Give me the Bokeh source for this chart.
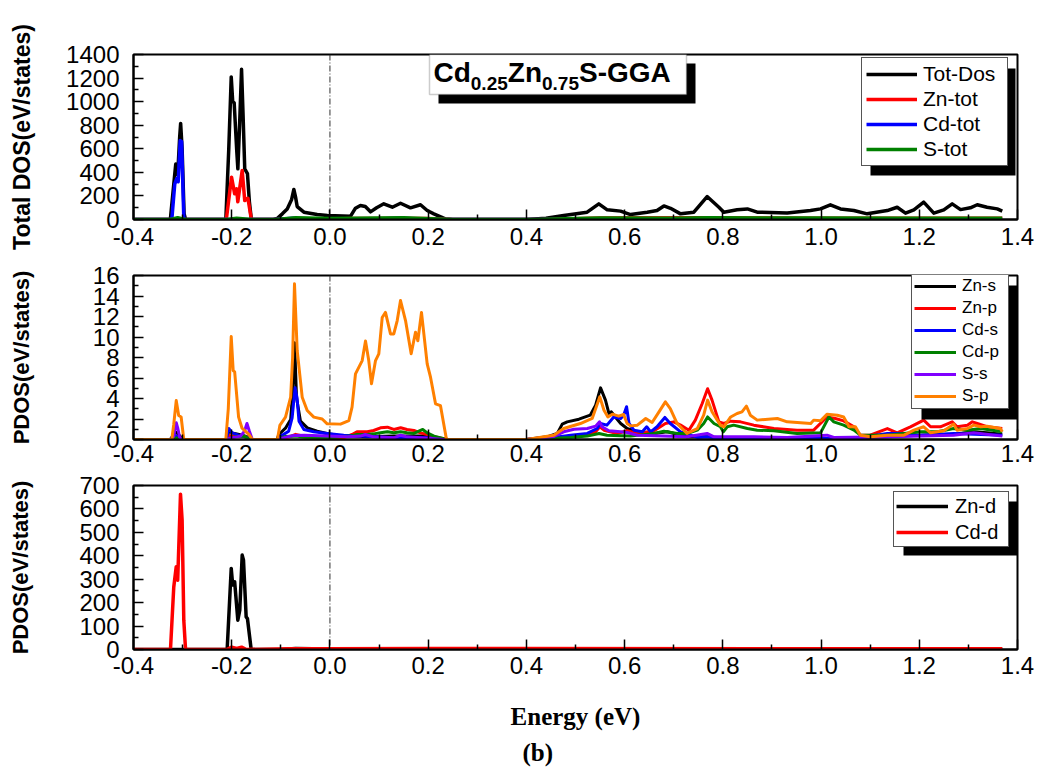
from bokeh.plotting import figure
from bokeh.layouts import column
from bokeh.models import (Range1d, FixedTicker, PrintfTickFormatter, Legend, LegendItem,
                          BoxAnnotation, Label, Span, Title)
from bokeh.embed import file_html
from bokeh.resources import INLINE

# ---------------------------------------------------------------- axes
X_MIN, X_MAX = -0.4, 1.4
X_TICKS = [-0.4, -0.2, 0.0, 0.2, 0.4, 0.6, 0.8, 1.0, 1.2, 1.4]
X_TICK_LABELS = ["-0.4", "-0.2", "0.0", "0.2", "0.4", "0.6", "0.8", "1.0", "1.2", "1.4"]
X_MINOR = [-0.3, -0.1, 0.1, 0.3, 0.5, 0.7, 0.9, 1.1, 1.3]

TOT_Y_TICKS = [0, 200, 400, 600, 800, 1000, 1200, 1400]
TOT_Y_MINOR = [100, 300, 500, 700, 900, 1100, 1300]
SP_Y_TICKS = [0, 2, 4, 6, 8, 10, 12, 14, 16]
SP_Y_MINOR = [1, 3, 5, 7, 9, 11, 13, 15]
D_Y_TICKS = [0, 100, 200, 300, 400, 500, 600, 700]
D_Y_MINOR = [50, 150, 250, 350, 450, 550, 650]

# ---------------------------------------------------------------- total DOS (eV/states)
TOT_DOS_E = [-0.400, -0.325, -0.318, -0.314, -0.310, -0.306, -0.304, -0.301, -0.297, -0.294,
             -0.212, -0.206, -0.201, -0.198, -0.195, -0.190, -0.1875, -0.184, -0.180, -0.177,
             -0.1735, -0.168, -0.164, -0.160,
             -0.115, -0.107, -0.097, -0.087, -0.078, -0.0735, -0.070, -0.0667, -0.053, -0.026,
             -0.005, 0.042, 0.052, 0.062, 0.072, 0.0826, 0.095, 0.1097, 0.127, 0.1437, 0.164,
             0.1844, 0.198, 0.2115, 0.235, 0.250,
             0.400, 0.440, 0.476, 0.5237, 0.5475, 0.5646, 0.5917, 0.612, 0.646, 0.666, 0.680,
             0.6935, 0.714, 0.741, 0.768, 0.792, 0.802, 0.829, 0.850, 0.870, 0.931, 0.9785,
             0.999, 1.019, 1.0396, 1.0667, 1.094, 1.1347, 1.155, 1.172, 1.189, 1.209, 1.2296,
             1.250, 1.267, 1.284, 1.304, 1.318, 1.338, 1.3587, 1.369]
TOT_DOS = [0, 0, 300, 470, 380, 700, 815, 600, 50, 0,
           0, 600, 1210, 1000, 990, 600, 430, 800, 1275, 900,
           430, 390, 150, 0,
           0, 10, 48, 90, 170, 255, 190, 110, 62, 42,
           34, 28, 96, 119, 110, 65, 100, 133, 104, 138, 99,
           125, 76, 48, 5, 0,
           0, 10, 34, 62, 133, 82, 71, 42, 62, 76, 115,
           95, 48, 62, 195, 104, 62, 82, 90, 62, 56, 76,
           90, 125, 90, 76, 48, 76, 104, 54, 82, 147, 54,
           82, 133, 84, 99, 125, 104, 90, 71]

ZN_TOT_E = [-0.400, -0.211, -0.2004, -0.194, -0.190, -0.1876, -0.1787, -0.1735, -0.167, -0.160,
            -0.110, -0.070, 0.000, 0.050, 0.200, 0.250, 0.450, 0.550, 0.770, 1.000, 1.369]
ZN_TOT = [0, 0, 359, 218, 260, 150, 416, 161, 180, 0,
          0, 8, 5, 8, 8, 0, 0, 12, 15, 10, 10]

CD_TOT_E = [-0.400, -0.322, -0.316, -0.312, -0.309, -0.305, -0.302, -0.2975,
            -0.110, -0.075, -0.060, 0.100, 0.140, 0.180, 0.220, 1.369]
CD_TOT = [0, 0, 300, 348, 320, 670, 660, 0,
          0, 10, 3, 5, 10, 5, 0, 0]

S_TOT_E = [-0.400, -0.325, -0.310, -0.295, -0.210, -0.190, -0.160, -0.110, -0.070, 0.000,
           0.050, 0.150, 0.220, 0.250, 0.420, 0.500, 0.550, 0.700, 0.770, 1.000, 1.200, 1.369]
S_TOT = [0, 0, 15, 0, 0, 10, 0, 0, 15, 8,
         10, 15, 5, 0, 0, 8, 12, 10, 15, 12, 10, 10]

# ---------------------------------------------------------------- s / p partial DOS
ZN_S_E = [-0.400, -0.325, -0.317, -0.312, -0.305, -0.298, -0.211, -0.206, -0.199, -0.185,
          -0.170, -0.162, -0.108, -0.104, -0.090, -0.080, -0.076, -0.072, -0.068, -0.060,
          -0.046, -0.026, -0.006, 0.015, 0.042, 0.076, 0.130, 0.198, 0.218, 0.240,
          0.400, 0.442, 0.463, 0.473, 0.483, 0.507, 0.530, 0.541, 0.551, 0.561,
          0.568, 0.573, 0.581, 0.592, 0.605, 0.626, 0.660, 0.687, 0.707, 0.727,
          0.768, 0.795, 0.863, 1.000, 1.135, 1.200, 1.270, 1.311, 1.338, 1.369]
ZN_S = [0, 0, 0.5, 0.7, 0.3, 0, 0, 0.81, 0.65, 0.49,
        0.3, 0, 0, 0.49, 1.14, 1.95, 4.5, 9.43, 4.07, 1.79,
        1.14, 0.81, 0.59, 0.42, 0.33, 0.26, 0.33, 0.33, 0.16, 0,
        0, 0.26, 0.59, 1.5, 1.72, 1.98, 2.37, 3.35, 5.04, 3.84,
        2.54, 2.7, 2.2, 1.56, 1.07, 0.75, 0.59, 0.75, 0.52, 0.26,
        0.26, 0.16, 0.1, 0.1, 0.26, 0.42, 0.52, 0.75, 0.65, 0.52]

ZN_P_E = [-0.400, -0.325, -0.315, -0.305, -0.298, -0.211, -0.205, -0.195, -0.180, -0.165,
          -0.160, -0.108, -0.080, -0.070, -0.050, 0.000, 0.030, 0.045, 0.055, 0.076,
          0.089, 0.103, 0.117, 0.130, 0.144, 0.157, 0.171, 0.184, 0.198, 0.212,
          0.232, 0.240, 0.400, 0.476, 0.524, 0.541, 0.5495, 0.558, 0.585, 0.605,
          0.626, 0.660, 0.683, 0.700, 0.714, 0.731, 0.744, 0.758, 0.769, 0.778,
          0.792, 0.802, 0.816, 0.836, 0.863, 0.904, 0.951, 0.985, 1.012, 1.029,
          1.046, 1.067, 1.080, 1.100, 1.135, 1.155, 1.182, 1.209, 1.223, 1.243,
          1.267, 1.277, 1.298, 1.308, 1.318, 1.338, 1.369]
ZN_P = [0, 0, 0.3, 0.2, 0, 0, 0.4, 0.3, 0.35, 0.2,
        0, 0, 0.3, 0.5, 0.3, 0.2, 0.2, 0.49, 0.75, 0.75,
        0.88, 1.14, 1.2, 0.98, 1.14, 0.98, 0.88, 0.65, 0.49, 0.26,
        0.07, 0, 0, 0.26, 0.42, 0.75, 1.24, 0.91, 0.59, 0.85,
        0.59, 0.85, 1.56, 1.72, 1.4, 0.91, 1.89, 3.51, 4.95, 3.84,
        1.72, 1.56, 1.79, 1.72, 1.4, 1.07, 0.91, 0.91, 2.2, 2.05,
        1.82, 1.24, 0.42, 0.42, 1.07, 0.65, 1.24, 1.89, 1.24, 1.24,
        1.72, 1.24, 1.4, 1.72, 1.56, 1.24, 1.07]

CD_S_E = [-0.400, -0.325, -0.318, -0.312, -0.298, -0.211, -0.206, -0.199, -0.185, -0.168,
          -0.162, -0.105, -0.100, -0.084, -0.077, -0.071, -0.067, -0.063, -0.053, -0.033,
          -0.006, 0.028, 0.062, 0.130, 0.200, 0.232, 0.400, 0.456, 0.490, 0.524,
          0.544, 0.551, 0.564, 0.578, 0.592, 0.598, 0.604, 0.609, 0.619, 0.636,
          0.645, 0.653, 0.666, 0.682, 0.693, 0.714, 0.748, 0.768, 0.800, 0.950,
          1.070, 1.135, 1.169, 1.200, 1.270, 1.369]
CD_S = [0, 0, 0.49, 0.3, 0, 0, 1.07, 0.65, 0.4, 0.2,
        0, 0, 0.33, 0.81, 2.11, 5.04, 4.07, 1.79, 0.98, 0.75,
        0.59, 0.42, 0.33, 0.16, 0.16, 0, 0, 0.2, 0.42, 0.59,
        1.07, 1.56, 1.4, 2.2, 2.05, 2.37, 3.2, 1.56, 0.91, 0.75,
        1.24, 0.75, 1.24, 2.15, 1.56, 0.75, 0.2, 0.26, 0.1, 0.1,
        0.1, 0.59, 0.59, 0.42, 0.59, 0.42]

CD_P_E = [-0.400, -0.325, -0.313, -0.298, -0.211, -0.190, -0.175, -0.162, -0.108, -0.090,
          -0.070, -0.050, 0.000, 0.042, 0.055, 0.076, 0.089, 0.103, 0.117, 0.130,
          0.144, 0.157, 0.171, 0.189, 0.198, 0.212, 0.232, 0.240, 0.400, 0.490,
          0.524, 0.548, 0.564, 0.592, 0.612, 0.660, 0.680, 0.707, 0.727, 0.748,
          0.761, 0.769, 0.782, 0.795, 0.801, 0.809, 0.822, 0.850, 0.870, 0.904,
          0.951, 0.999, 1.016, 1.026, 1.046, 1.067, 1.080, 1.135, 1.203, 1.237,
          1.270, 1.298, 1.325, 1.369]
CD_P = [0, 0, 0.16, 0, 0, 0.3, 0.33, 0, 0, 0.3,
        0.33, 0.23, 0.16, 0.33, 0.49, 0.49, 0.55, 0.65, 0.75, 0.65,
        0.75, 0.65, 0.59, 0.98, 0.65, 0.33, 0.07, 0, 0, 0.2,
        0.33, 0.59, 0.42, 0.36, 0.33, 0.59, 0.81, 0.59, 0.59, 0.91,
        1.56, 2.2, 1.56, 1.24, 0.75, 1.24, 1.4, 1.07, 0.91, 0.85,
        0.59, 0.65, 2.2, 1.72, 1.4, 0.91, 0.42, 0.42, 0.75, 0.75,
        1.07, 0.91, 1.07, 0.75]

S_S_E = [-0.400, -0.322, -0.318, -0.313, -0.310, -0.306, -0.301, -0.211, -0.202, -0.182,
         -0.174, -0.169, -0.164, -0.158, -0.108, -0.087, -0.073, -0.052, -0.006, 0.035,
         0.062, 0.072, 0.089, 0.130, 0.144, 0.157, 0.184, 0.232, 0.400, 0.456,
         0.476, 0.497, 0.524, 0.541, 0.549, 0.554, 0.568, 0.592, 0.605, 0.626,
         0.660, 0.727, 0.768, 0.782, 0.863, 0.931, 1.012, 1.026, 1.135, 1.203,
         1.270, 1.311, 1.369]
S_S = [0, 0, 0.33, 1.63, 1.14, 0.2, 0, 0, 0.16, 0.33,
       0.81, 1.56, 0.81, 0, 0, 0.26, 0.39, 0.42, 0.33, 0.26,
       0.33, 0.49, 0.26, 0.16, 0.42, 0.26, 0.16, 0, 0, 0.3,
       0.75, 1.0, 1.07, 1.3, 1.72, 1.24, 0.85, 0.75, 0.68, 0.42,
       0.36, 0.26, 0.59, 0.26, 0.26, 0.2, 0.42, 0.2, 0.26, 0.33,
       0.42, 0.65, 0.33]

S_P_E = [-0.400, -0.322, -0.318, -0.313, -0.308, -0.303, -0.2976, -0.212, -0.207, -0.201,
         -0.197, -0.194, -0.186, -0.179, -0.172, -0.165, -0.158, -0.107, -0.102, -0.0905,
         -0.080, -0.076, -0.0722, -0.0667, -0.0565, -0.0463, -0.0328, -0.0158, -0.0056, 0.0215,
         0.0385, 0.045, 0.052, 0.0657, 0.0724, 0.079, 0.0846, 0.0928, 0.0995, 0.1064,
         0.1131, 0.1233, 0.130, 0.137, 0.1437, 0.1539, 0.1654, 0.1742, 0.179, 0.1864,
         0.198, 0.2048, 0.215, 0.2251, 0.2373, 0.400, 0.456, 0.476, 0.510, 0.534,
         0.5495, 0.558, 0.566, 0.575, 0.588, 0.598, 0.605, 0.612, 0.626, 0.643,
         0.656, 0.670, 0.683, 0.693, 0.707, 0.727, 0.748, 0.761, 0.769, 0.778,
         0.795, 0.802, 0.816, 0.829, 0.839, 0.848, 0.856, 0.870, 0.911, 0.931,
         0.979, 0.985, 0.999, 1.012, 1.033, 1.046, 1.057, 1.070, 1.080, 1.101,
         1.135, 1.169, 1.189, 1.209, 1.223, 1.250, 1.270, 1.277, 1.298, 1.311,
         1.325, 1.338, 1.365, 1.369]
S_P = [0, 0, 1.5, 3.8, 2.34, 2.2, 0, 0, 3.0, 10.05,
       6.73, 6.6, 2.18, 1.1, 0.8, 0.5, 0, 0, 1.37, 2.18,
       4.13, 8.0, 15.2, 8.68, 4.13, 2.83, 2.18, 2.0, 1.53, 1.5,
       1.85, 3.15, 6.4, 7.7, 9.6, 7.7, 5.43, 7.7, 8.36, 11.9,
       12.4, 10.3, 10.3, 11.6, 13.56, 11.6, 8.36, 10.47, 9.63, 12.4,
       7.38, 6.08, 3.48, 3.3, 0, 0, 0.42, 1.07, 1.56, 2.05,
       4.16, 2.86, 2.2, 2.47, 2.28, 2.44, 1.56, 1.33, 1.4, 2.05,
       1.66, 2.7, 3.67, 3.02, 1.56, 0.59, 1.07, 2.37, 3.84, 2.7,
       1.4, 1.24, 2.2, 2.54, 2.7, 3.25, 2.37, 1.89, 2.05, 1.72,
       1.56, 1.89, 1.82, 2.47, 2.37, 2.2, 1.24, 1.24, 0.42, 0.26,
       0.42, 0.42, 0.91, 1.24, 0.65, 0.85, 1.5, 0.91, 1.07, 1.4,
       1.24, 1.3, 1.07, 0.75]

# ---------------------------------------------------------------- d partial DOS
ZN_D_E = [-0.400, -0.2093, -0.201, -0.198, -0.194, -0.1876, -0.1836, -0.1787, -0.176, -0.1706,
          -0.168, -0.1604, -0.100, -0.070, 0.000, 1.369]
ZN_D = [0, 0, 346, 275, 289, 125, 168, 403, 381, 139,
        132, 0, 0, 4, 2, 1]

CD_D_E = [-0.400, -0.3247, -0.318, -0.313, -0.310, -0.3043, -0.301, -0.2976, -0.294, -0.210,
          -0.200, -0.190, -0.180, -0.170, -0.080, 0.000, 0.200, 1.369]
CD_D = [0, 0, 267, 353, 296, 663, 552, 125, 0, 0,
        10, 5, 10, 0, 3, 3, 4, 3]

SANS = "Liberation Sans"
SERIF = "Liberation Serif"


def make_panel(height, border_top, border_bottom, y_max, y_ticks, y_minor,
               y_label, y_label_size, y_label_standoff, x_label_standoff):
    p = figure(width=1037, height=height, title=None,
               x_range=Range1d(X_MIN, X_MAX), y_range=Range1d(0, y_max),
               output_backend="svg", toolbar_location=None,
               min_border_left=133, min_border_right=20,
               min_border_top=border_top, min_border_bottom=border_bottom)
    p.xgrid.visible = False
    p.ygrid.visible = False
    p.background_fill_color = "white"
    p.border_fill_color = "white"
    p.outline_line_color = "black"
    p.outline_line_width = 2
    p.outline_line_alpha = 1

    p.xaxis.ticker = FixedTicker(ticks=X_TICKS, minor_ticks=X_MINOR)
    p.xaxis.formatter = PrintfTickFormatter(format="%.1f")
    p.xaxis.major_label_overrides = dict(zip(X_TICKS, X_TICK_LABELS))
    p.yaxis.ticker = FixedTicker(ticks=y_ticks, minor_ticks=y_minor)
    for ax in (p.xaxis[0], p.yaxis[0]):
        ax.axis_line_width = 2
        ax.axis_line_color = "black"
        ax.major_tick_in = 10
        ax.major_tick_out = 0
        ax.minor_tick_in = 5
        ax.minor_tick_out = 0
        ax.major_tick_line_width = 1.5
        ax.minor_tick_line_width = 1.5
        ax.major_tick_line_color = "black"
        ax.minor_tick_line_color = "black"
        ax.major_label_text_font = SANS
        ax.major_label_text_font_size = "24px"
        ax.major_label_text_color = "black"
    p.xaxis.major_label_standoff = x_label_standoff
    p.yaxis.major_label_standoff = 14

    p.yaxis.axis_label = y_label
    p.yaxis.axis_label_text_font = SANS
    p.yaxis.axis_label_text_font_style = "bold"
    p.yaxis.axis_label_text_font_size = y_label_size
    p.yaxis.axis_label_text_color = "black"
    p.yaxis.axis_label_standoff = y_label_standoff

    # Fermi level
    p.add_layout(Span(location=0, dimension="height", line_color="#303030",
                      line_width=1, line_dash="6 2 1 2", level="underlay"))
    return p


def add_series(p, series, width):
    items = []
    for name, xs, ys, color in series:
        assert len(xs) == len(ys), name
        r = p.line(xs, ys, line_color=color, line_width=width, line_join="round")
        items.append(LegendItem(label=name, renderers=[r]))
    return items


def add_shadow_box(p, left, bottom, w, h, dx, dy):
    p.add_layout(BoxAnnotation(left=left + dx, right=left + w + dx,
                               bottom=bottom - dy, top=bottom + h - dy,
                               left_units="screen", right_units="screen",
                               bottom_units="screen", top_units="screen",
                               fill_color="black", fill_alpha=1, line_alpha=0))


def add_legend(p, items, left, bottom, font_size, glyph_w, label_w, label_h,
               spacing, padding, standoff, dx, dy):
    n = len(items)
    w = 2 * padding + glyph_w + standoff + label_w
    h = 2 * padding + n * label_h + (n - 1) * spacing
    add_shadow_box(p, left, bottom, w, h, dx, dy)
    leg = Legend(items=items, location=(left, bottom),
                 border_line_color="#555555", border_line_width=1.5, border_line_alpha=1,
                 background_fill_color="white", background_fill_alpha=1,
                 label_text_font=SANS, label_text_font_size=font_size,
                 label_text_color="black",
                 glyph_width=glyph_w, glyph_height=label_h,
                 label_width=label_w, label_height=label_h,
                 label_standoff=standoff, spacing=spacing, padding=padding, margin=0)
    p.add_layout(leg)


# ---------------------------------------------------------------- panel 1: total DOS
p1 = make_panel(255, 54, 36, 1400, TOT_Y_TICKS, TOT_Y_MINOR,
                "Total DOS(eV/states)", "23px", 28, 8)
items1 = add_series(p1, [("Tot-Dos", TOT_DOS_E, TOT_DOS, "black"),
                         ("Zn-tot", ZN_TOT_E, ZN_TOT, "#ff0000"),
                         ("Cd-tot", CD_TOT_E, CD_TOT, "#0000ff"),
                         ("S-tot", S_TOT_E, S_TOT, "#008000")], 3.5)
add_legend(p1, items1, 728, 53, "21px", 51, 80, 24, 1, 4, 6, 9, 9)

# compound name box
add_shadow_box(p1, 296, 125, 257, 40, 9, 9)
p1.add_layout(BoxAnnotation(left=296, right=553, bottom=125, top=165,
                            left_units="screen", right_units="screen",
                            bottom_units="screen", top_units="screen",
                            fill_color="white", fill_alpha=1,
                            line_color="#555555", line_width=1.5))
for txt, x, y, size in [("Cd", 300, 147, "28px"), ("0.25", 337.3, 136, "19px"),
                        ("Zn", 374.3, 147, "28px"), ("0.75", 408.5, 136, "19px"),
                        ("S-GGA", 445.5, 147, "28px")]:
    p1.add_layout(Label(x=x, y=y, x_units="screen", y_units="screen", text=txt,
                        text_font=SANS, text_font_size=size, text_font_style="bold",
                        text_color="black", text_align="left", text_baseline="middle"))

# ---------------------------------------------------------------- panel 2: s / p PDOS
p2 = make_panel(217, 20, 33, 16, SP_Y_TICKS, SP_Y_MINOR,
                "PDOS(eV/states)", "22px", 56, 5)
items2 = add_series(p2, [("Zn-s", ZN_S_E, ZN_S, "black"),
                         ("Zn-p", ZN_P_E, ZN_P, "#ff0000"),
                         ("Cd-s", CD_S_E, CD_S, "#0000ff"),
                         ("Cd-p", CD_P_E, CD_P, "#008000"),
                         ("S-s", S_S_E, S_S, "#8000ff"),
                         ("S-p", S_P_E, S_P, "#ff8000")], 3)
add_legend(p2, items2, 778, 30, "17px", 42, 44, 20, 2, 2, 6, 10, 10)

# ---------------------------------------------------------------- panel 3: d PDOS
p3 = make_panel(299, 13, 122, 700, D_Y_TICKS, D_Y_MINOR,
                "PDOS(eV/states)", "22px", 43, 7)
items3 = add_series(p3, [("Zn-d", ZN_D_E, ZN_D, "black"),
                         ("Cd-d", CD_D_E, CD_D, "#ff0000")], 3.5)
add_legend(p3, items3, 760, 102, "20px", 52, 51, 24, 2, 2, 7, 10, 8)

p3.xaxis.axis_label = "Energy (eV)"
p3.xaxis.axis_label_text_font = SERIF
p3.xaxis.axis_label_text_font_style = "bold"
p3.xaxis.axis_label_text_font_size = "25px"
p3.xaxis.axis_label_text_color = "black"
p3.xaxis.axis_label_standoff = 26
p3.add_layout(Title(text="(b)", align="left", offset=389, standoff=8, text_font=SERIF,
                    text_font_size="25px", text_font_style="bold", text_color="black"),
              "below")

layout = column(p1, p2, p3)
open("out.html", "w").write(file_html(layout, INLINE, title="Cd0.25Zn0.75S DOS"))
